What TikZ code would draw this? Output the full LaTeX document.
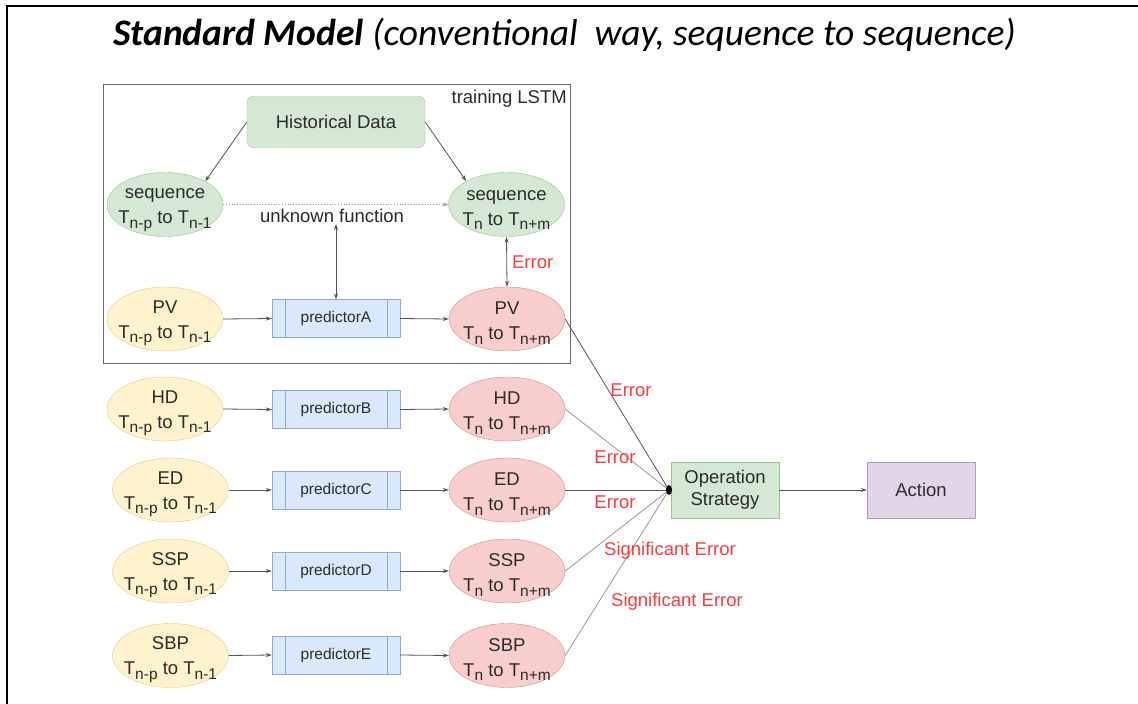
\documentclass[tikz,border=0pt]{standalone}
\usepackage{fontspec}
\setmainfont{Liberation Sans}
\newfontfamily\titlefont{Carlito}
\usetikzlibrary{shapes.geometric,arrows.meta}

\definecolor{txt}{HTML}{2B2B2B}
\definecolor{errred}{HTML}{FF3B3B}
\definecolor{gfill}{HTML}{D5E8D4}\definecolor{gline}{HTML}{9AC48C}
\definecolor{yfill}{HTML}{FFF2CC}\definecolor{yline}{HTML}{E3CB80}
\definecolor{rfill}{HTML}{F8CECC}\definecolor{rline}{HTML}{D58A86}
\definecolor{bfill}{HTML}{DAE8FC}\definecolor{bline}{HTML}{8EAAD8}
\definecolor{pfill}{HTML}{E1D5E7}\definecolor{pline}{HTML}{B09AC0}
\definecolor{darkln}{HTML}{555555}
\definecolor{lightln}{HTML}{999999}
\definecolor{framec}{HTML}{666666}

% time-index subscript, set a little smaller and lowered
\newcommand{\tsub}[1]{\raisebox{-4.5pt}{\fontsize{15.5}{15.5}\selectfont #1}}
\newcommand{\inseq}{T\tsub{n-p} to T\tsub{n-1}}
\newcommand{\outseq}{T\tsub{n} to T\tsub{n+m}}
% two-line ellipse label; the strut balances the lowered subscripts below
\newcommand{\ellab}[2]{\rule{0pt}{21pt}#1\\#2}

\begin{document}
\begin{tikzpicture}[x=1pt,y=-1pt,
  lab/.style={font=\fontsize{18.5}{25}\selectfont, text=txt, align=center},
  ell/.style={ellipse, draw, minimum width=116pt, minimum height=64pt,
    inner xsep=-14pt, inner ysep=-12pt, lab},
  seqell/.style={ell, fill=gfill, draw=gline},
  inell/.style={ell, fill=yfill, draw=yline},
  outell/.style={ell, fill=rfill, draw=rline},
  predbox/.style={rectangle, draw=bline, fill=bfill, minimum width=128pt, minimum height=38pt,
    inner sep=0pt, font=\fontsize{15.5}{18}\selectfont, text=txt,
    path picture={
      \draw[bline] ([xshift=13pt]path picture bounding box.north west) -- ([xshift=13pt]path picture bounding box.south west);
      \draw[bline] ([xshift=-13pt]path picture bounding box.north east) -- ([xshift=-13pt]path picture bounding box.south east);
    }},
  plainbox/.style={rectangle, minimum width=108pt, minimum height=56pt, inner sep=0pt, lab},
  conn/.style={draw=darkln, line width=0.8pt, -{Stealth[length=6pt,width=4pt]}},
  dconn/.style={draw=darkln, line width=0.8pt, {Stealth[length=6pt,width=4pt]}-{Stealth[length=6pt,width=4pt]}},
  feed/.style={line width=0.8pt},
  errlab/.style={font=\fontsize{18.5}{22}\selectfont, text=errred, inner sep=0pt}
]
\useasboundingbox (0,0) rectangle (1138,704);
\fill[white] (0,0) rectangle (1138,704);
\draw[line width=2.5pt] (7,704) -- (7,6) -- (1138,6);

% title
\node[anchor=base west, inner sep=0pt, text=black] (title) at (113,45)
  {\titlefont\fontsize{37.5}{44}\selectfont\bfseries\itshape Standard Model \mdseries(conventional\ \ way, sequence to sequence)};

% training block
\draw[framec, line width=1pt] (103,84) rectangle (570,363);
\node[lab, anchor=north east, inner sep=0pt] (trlab) at (567,90) {training LSTM};

\node[rectangle, rounded corners=6pt, draw=gline, fill=gfill, minimum width=178pt, minimum height=51pt, lab] (hist) at (336,122) {Historical Data};
\node[seqell] (seqL) at (165,204.5) {\ellab{sequence}{\inseq}};
\node[seqell] (seqR) at (506.5,204.5) {\ellab{sequence}{\outseq}};
\node[lab, inner sep=1pt] (unk) at (332,216) {unknown function};

\node[inell] (inA) at (165,319) {\ellab{PV}{\inseq}};
\node[predbox] (pA) at (336,318.5) {predictorA};
\node[outell] (outA) at (507,319) {\ellab{PV}{\outseq}};

\draw[conn] (hist.west) -- (seqL.30);
\draw[conn] (hist.east) -- (seqR.150);
\draw[conn, dotted, draw=lightln] (seqL.east) -- (seqR.west);
\draw[dconn] (pA.north) -- (unk.south -| pA.north);
\draw[dconn] (outA.north) -- (seqR.south) node[midway, errlab, right=5pt] (errA) {Error};
\draw[conn] (inA.east) -- (pA.west);
\draw[conn] (pA.east) -- (outA.west);

% remaining predictors
\node[inell] (inB) at (165,409) {\ellab{HD}{\inseq}};
\node[predbox] (pB) at (336,409.5) {predictorB};
\node[outell] (outB) at (507,409) {\ellab{HD}{\outseq}};

\node[inell] (inC) at (170.5,490) {\ellab{ED}{\inseq}};
\node[predbox] (pC) at (336,490) {predictorC};
\node[outell] (outC) at (507,490) {\ellab{ED}{\outseq}};

\node[inell] (inD) at (170.5,571) {\ellab{SSP}{\inseq}};
\node[predbox] (pD) at (336,571) {predictorD};
\node[outell] (outD) at (507,571) {\ellab{SSP}{\outseq}};

\node[inell] (inE) at (170.5,655.5) {\ellab{SBP}{\inseq}};
\node[predbox] (pE) at (336,655) {predictorE};
\node[outell] (outE) at (507,655.5) {\ellab{SBP}{\outseq}};

\foreach \r in {B,C,D,E}{
  \draw[conn] (in\r.east) -- (p\r.west);
  \draw[conn] (p\r.east) -- (out\r.west);
}

% decision stage
\node[plainbox, draw=gline, fill=gfill] (ops) at (725,490) {Operation\\[-3pt]Strategy};
\node[plainbox, draw=pline, fill=pfill] (act) at (921,490) {Action};
\coordinate (hub) at (669,490);

\draw[feed, draw=darkln] (outA.east) -- (hub);
\draw[feed, draw=lightln] (outB.east) -- (hub);
\draw[feed, draw=darkln] (outC.east) -- (hub);
\draw[feed, draw=lightln] (outD.east) -- (hub);
\draw[feed, draw=lightln] (outE.east) -- (hub);
\fill[black] (hub) ellipse (3pt and 5pt);
\draw[conn] (ops.east) -- (act.west);

\node[errlab] (e1) at (631,390) {Error};
\node[errlab] (e2) at (615,457) {Error};
\node[errlab] (e3) at (615,502) {Error};
\node[errlab] (e4) at (670,551) {Significant Error};
\node[errlab] (e5) at (677,602) {Significant Error};
\end{tikzpicture}
\end{document}
